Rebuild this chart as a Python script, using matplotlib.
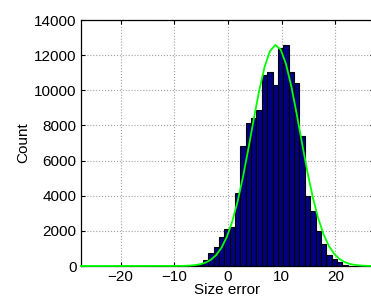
import matplotlib
matplotlib.use("Agg")
import matplotlib.pyplot as plt
import numpy as np

# Histogram: bin left edges (width 1) and counts
bin_left = [-6.7, -5.7, -4.7, -3.7, -2.7, -1.7, -0.7, 0.3, 1.3, 2.3, 3.3, 4.3, 5.3,
            6.3, 7.3, 8.3, 9.3, 10.3, 11.3, 12.3, 13.3, 14.3, 15.3, 16.3, 17.3,
            18.3, 19.3, 20.3, 21.3]
counts = [30, 120, 350, 720, 1100, 1670, 2090, 2200, 4170, 6850, 8140, 8420, 8880,
          10860, 11040, 10320, 12400, 12580, 11050, 10400, 7400, 3970, 3140, 1970,
          1240, 650, 390, 200, 60]
bin_width = 1.0

# Fitted curve (green) sampled at bin centres
fit_x = [-27.4, -8.2, -7.2, -6.2, -5.2, -4.2, -3.2, -2.2, -1.2, -0.2, 0.8, 1.8, 2.8,
         3.8, 4.8, 5.8, 6.8, 7.8, 8.8, 9.8, 10.8, 11.8, 12.8, 13.8, 14.8, 15.8,
         16.8, 17.8, 18.8, 19.8, 20.8, 21.8, 22.8, 23.8, 24.8, 25.8, 27.2]
fit_y = [0, 8, 22, 48, 98, 191, 353, 624, 1047, 1672, 2545, 3692, 5092,
         6689, 8368, 9976, 11316, 12225, 12578, 12322, 11494, 10210, 8637, 6960,
         5334, 3896, 2711, 1795, 1131, 680, 389, 212, 110, 54, 25, 11, 0]

xticks = [-20, -10, 0, 10, 20]
yticks = [0, 2000, 4000, 6000, 8000, 10000, 12000, 14000]

plt.rcParams['font.family'] = ['Liberation Sans', 'DejaVu Sans']
plt.rcParams['axes.unicode_minus'] = True

fig = plt.figure(figsize=(3.71, 3.0), dpi=100)
ax = fig.add_axes([0.218, 0.1133, 0.79, 0.82])

ax.bar(bin_left, counts, width=bin_width, align='edge', color='#000080',
       edgecolor='black', linewidth=0.8, zorder=2)
ax.plot(fit_x, fit_y, color='#00ff00', linewidth=1.3, zorder=3, clip_on=False)

ax.set_xlim(-27.4, 27.18)
ax.set_ylim(0, 14000)
ax.set_xticks(xticks)
ax.set_yticks(yticks)
ax.grid(True, linestyle=':', color='#a0a0a0', linewidth=0.8, zorder=0)
ax.set_axisbelow(True)
ax.tick_params(direction='in', labelsize=11, length=3, width=0.8,
               top=True, right=True, pad=3)
for s in ax.spines.values():
    s.set_linewidth(0.9)
    s.set_color('black')

ax.set_xlabel('Size error', fontsize=11, labelpad=-1)
ax.set_ylabel('Count', fontsize=11, labelpad=3)

fig.savefig('out.png', dpi=100)
